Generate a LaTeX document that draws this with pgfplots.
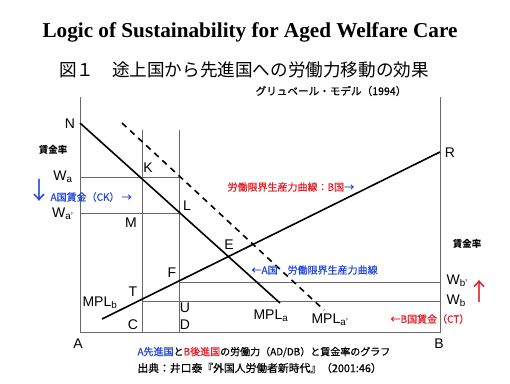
\documentclass[border=0pt]{standalone}
\usepackage{fontspec}
\usepackage{pgfplots}
\pgfplotsset{compat=1.18}
\setmainfont{Liberation Sans}
\newfontfamily\cjk{Noto Sans CJK JP}
\newfontfamily\cjkb[FakeBold=0.6]{Noto Sans CJK JP}
\newfontfamily\ttl{Liberation Serif}
\definecolor{jblue}{RGB}{35,70,220}
\definecolor{jred}{RGB}{228,30,40}
\definecolor{lgray}{RGB}{105,105,105}
\newcommand{\fs}[1]{\fontsize{#1}{#1}\selectfont}
\begin{document}
\begin{tikzpicture}
\begin{axis}[
  scale only axis, width=510pt, height=383pt,
  xmin=0, xmax=510, ymin=0, ymax=383, y dir=reverse,
  hide axis, clip=false,
  every axis plot/.append style={no markers},
]
% frame lines (gray)
\addplot[lgray, line width=0.8pt] coordinates {(80,97) (80,332) (440,332) (440,97)};
\addplot[lgray, line width=0.8pt] coordinates {(142,130) (142,332)};
\addplot[lgray, line width=0.8pt] coordinates {(179,130) (179,332)};
\addplot[lgray, line width=0.8pt] coordinates {(80,177) (179,177)};
\addplot[lgray, line width=0.8pt] coordinates {(80,213) (179,213)};
\addplot[lgray, line width=0.8pt] coordinates {(179,282) (440,282)};
\addplot[lgray, line width=0.8pt] coordinates {(142,301) (440,301)};
% curves
\addplot[black, line width=1.6pt] coordinates {(80,123) (280,303)};
\addplot[black, line width=1.6pt, dash pattern=on 6pt off 5pt] coordinates {(122,123) (324,310)};
\addplot[black, line width=1.6pt] coordinates {(102,319) (440,152)};
% titles
\node[font=\ttl\bfseries\fs{21.2}] at (axis cs:250,32) {Logic of Sustainability for Aged Welfare Care};
\node[font=\cjk\fs{17.6}] at (axis cs:244,70) {図１　途上国から先進国への労働力移動の効果};
\node[font=\cjkb\fs{10.6}] at (axis cs:331,91) {グリュベール・モデル（1994）};
% point labels
\node[font=\fs{14}] at (axis cs:70,124) {N};
\node[font=\fs{14}] at (axis cs:148,168) {K};
\node[font=\fs{14}] at (axis cs:187,206) {L};
\node[font=\fs{14}] at (axis cs:131,223) {M};
\node[font=\fs{14}] at (axis cs:229,245) {E};
\node[font=\fs{14}] at (axis cs:172,273) {F};
\node[font=\fs{14}] at (axis cs:133,292) {T};
\node[font=\fs{14}] at (axis cs:133,325) {C};
\node[font=\fs{14}] at (axis cs:185,308) {U};
\node[font=\fs{14}] at (axis cs:185,325) {D};
\node[font=\fs{14}] at (axis cs:78,344) {A};
\node[font=\fs{14}] at (axis cs:439,344) {B};
\node[font=\fs{14}] at (axis cs:450,153) {R};
\node[font=\fs{14}, anchor=east] at (axis cs:76,177) {W\textsubscript{a}};
\node[font=\fs{14}, anchor=east] at (axis cs:77,214) {W\textsubscript{a'}};
\node[font=\fs{14}, anchor=west] at (axis cs:443,281) {W\textsubscript{b'}};
\node[font=\fs{14}, anchor=west] at (axis cs:443,301) {W\textsubscript{b}};
\node[font=\fs{14}, anchor=west] at (axis cs:79,303) {MPL\textsubscript{b}};
\node[font=\fs{14}, anchor=west] at (axis cs:250,316) {MPL\textsubscript{a}};
\node[font=\fs{14}, anchor=west] at (axis cs:308,320) {MPL\textsubscript{a'}};
% Japanese labels
\node[font=\cjk\bfseries\fs{9.5}] at (axis cs:53,150) {賃金率};
\node[font=\cjk\bfseries\fs{9.5}] at (axis cs:467,244) {賃金率};
\node[font=\cjk\fs{24}, text=jblue] at (axis cs:39,190) {↓};
\node[font=\cjk\fs{24}, text=jred] at (axis cs:479,291) {↑};
\node[font=\cjkb\fs{10}, text=jblue, anchor=west] at (axis cs:47,197) {A国賃金（CK） →};
\node[font=\cjkb\fs{10}, text=jred, anchor=west] at (axis cs:224,187) {労働限界生産力曲線：B国\textcolor{jblue}{→}};
\node[font=\cjkb\fs{10}, text=jblue, anchor=west] at (axis cs:248,270) {←A国\hspace{1em}労働限界生産力曲線};
\node[font=\cjkb\fs{10}, text=jred, anchor=west] at (axis cs:387,319) {←B国賃金（CT）};
\node[font=\cjkb\fs{10}, anchor=west] at (axis cs:134,352) {\textcolor{jblue}{A先進国}と\textcolor{jred}{B後進国}の労働力（AD/DB）と賃金率のグラフ};
\node[font=\cjkb\fs{10.8}, anchor=west] at (axis cs:134,368) {出典：井口泰『外国人労働者新時代』（2001:46）};
\end{axis}
\pgfresetboundingbox
\path (0,0) rectangle (510pt,383pt);
\end{tikzpicture}
\end{document}
